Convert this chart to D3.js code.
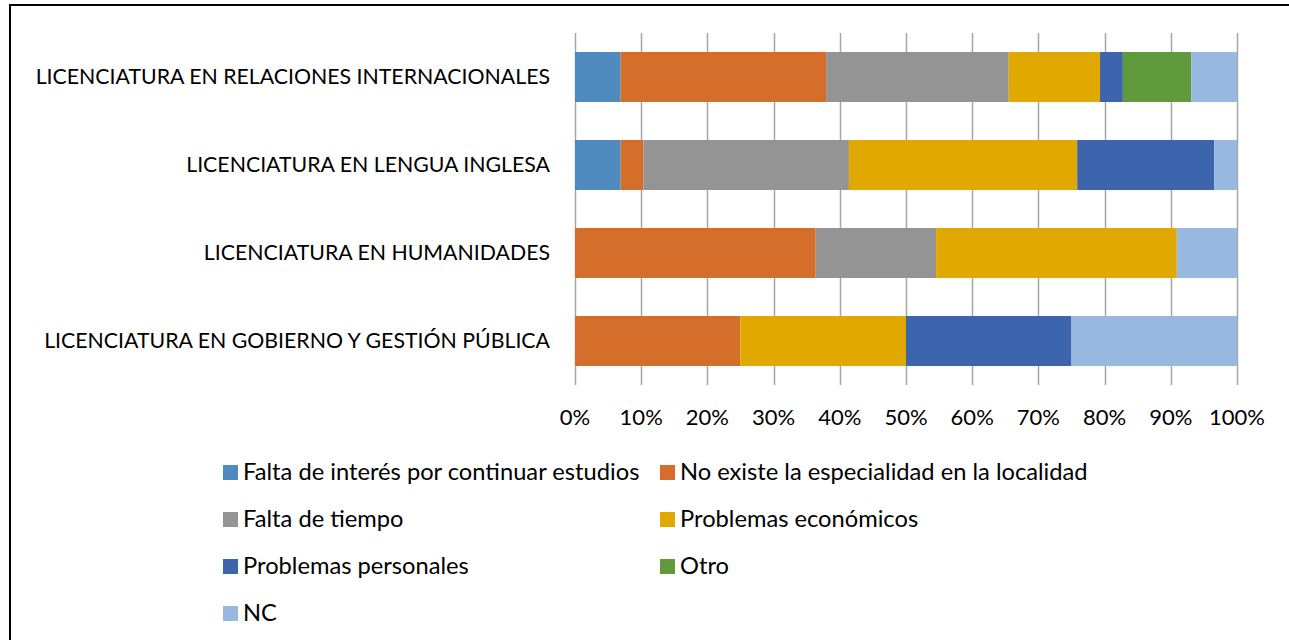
<!DOCTYPE html>
<html>
<head>
<meta charset="utf-8">
<script src="https://cdn.jsdelivr.net/npm/d3@7"></script>
<style>
  html, body { margin: 0; background: #fff; overflow: hidden; }
  svg { display: block; font-family: Lato, "Liberation Sans", Arial, sans-serif; }
</style>
</head>
<body>
<div id="wrapper"></div>
<script>
/* DATA */
const categories = [
  'LICENCIATURA EN RELACIONES INTERNACIONALES',
  'LICENCIATURA EN LENGUA INGLESA',
  'LICENCIATURA EN HUMANIDADES',
  'LICENCIATURA EN GOBIERNO Y GESTIÓN PÚBLICA',
];
const seriesNames = [
  'Falta de interés por continuar estudios',
  'No existe la especialidad en la localidad',
  'Falta de tiempo',
  'Problemas económicos',
  'Problemas personales',
  'Otro',
  'NC',
];
const seriesColors = ['#508BBF', '#D46E2A', '#949494', '#E1A900', '#3D65AD', '#619A3C', '#98B9DF'];
// counts per category (same order as seriesNames), shown as share of row total
const falta_interes = [2, 2, 0, 0];
const no_existe = [9, 1, 4, 1];
const falta_tiempo = [8, 9, 2, 0];
const economicos = [4, 10, 4, 1];
const personales = [1, 6, 0, 1];
const otro = [3, 0, 0, 0];
const nc = [2, 1, 1, 1];
const seriesValues = [falta_interes, no_existe, falta_tiempo, economicos, personales, otro, nc];
const tickLabels = ['0%', '10%', '20%', '30%', '40%', '50%', '60%', '70%', '80%', '90%', '100%'];

/* DIMENSIONS */
const width = 1289;
const height = 640;
const plot = { left: 575, right: 1237, top: 33, bottom: 385 };

/* STACK */
const rows = categories.map((c, i) => {
  const row = { category: c };
  const total = d3.sum(seriesValues, s => s[i]);
  seriesNames.forEach((name, j) => { row[name] = seriesValues[j][i] / total; });
  return row;
});
const stacked = d3.stack().keys(seriesNames)(rows);

/* SCALES */
const xScale = d3.scaleLinear().domain([0, 1]).range([plot.left, plot.right]);
const yScale = d3.scaleBand().domain(categories).range([plot.top, plot.bottom]).paddingInner(0.432).paddingOuter(0.216);
const color = d3.scaleOrdinal().domain(seriesNames).range(seriesColors);

/* DRAW */
const svg = d3.select('#wrapper').append('svg').attr('width', width).attr('height', height);

// chart frame: only left and top edges fall inside the picture
svg.append('path')
  .attr('d', `M10,${height}V5H${width}`)
  .attr('fill', 'none').attr('stroke', '#000').attr('stroke-width', 2);

// gridlines
svg.append('g')
  .selectAll('line')
  .data(d3.range(0, 11).map(d => d / 10))
  .join('line')
  .attr('x1', d => Math.round(xScale(d)) + 0.5)
  .attr('x2', d => Math.round(xScale(d)) + 0.5)
  .attr('y1', plot.top)
  .attr('y2', plot.bottom)
  .attr('stroke', '#A6A6A6')
  .attr('stroke-width', 1.5);

// bars
svg.append('g')
  .selectAll('g')
  .data(stacked)
  .join('g')
  .attr('fill', d => color(d.key))
  .selectAll('rect')
  .data(d => d)
  .join('rect')
  .attr('x', d => xScale(d[0]))
  .attr('width', d => xScale(d[1]) - xScale(d[0]))
  .attr('y', d => yScale(d.data.category))
  .attr('height', yScale.bandwidth());

// category labels
svg.append('g')
  .selectAll('text')
  .data(categories)
  .join('text')
  .attr('x', 550)
  .attr('y', d => yScale(d) + yScale.bandwidth() / 2)
  .attr('dy', '0.35em')
  .attr('text-anchor', 'end')
  .attr('font-size', 21.3)
  .attr('fill', '#000')
  .text(d => d);

// x tick labels
svg.append('g')
  .selectAll('text')
  .data(tickLabels)
  .join('text')
  .attr('x', (d, i) => xScale(i / 10))
  .attr('y', 417)
  .attr('dy', '0.35em')
  .attr('text-anchor', 'middle')
  .attr('font-size', 22)
  .attr('fill', '#000')
  .text(d => d);

/* LEGEND */
const legendCols = [223, 660];
const legendRowY = [472, 519, 566, 613];
const legend = svg.append('g')
  .selectAll('g')
  .data(seriesNames)
  .join('g')
  .attr('transform', (d, i) => `translate(${legendCols[i % 2]}, ${legendRowY[Math.floor(i / 2)]})`);

legend.append('rect')
  .attr('x', 0).attr('y', -7)
  .attr('width', 15).attr('height', 15)
  .attr('fill', d => color(d));

legend.append('text')
  .attr('x', 20)
  .attr('dy', '0.35em')
  .attr('font-size', 23.7)
  .attr('fill', '#000')
  .text(d => d);
</script>
</body>
</html>
